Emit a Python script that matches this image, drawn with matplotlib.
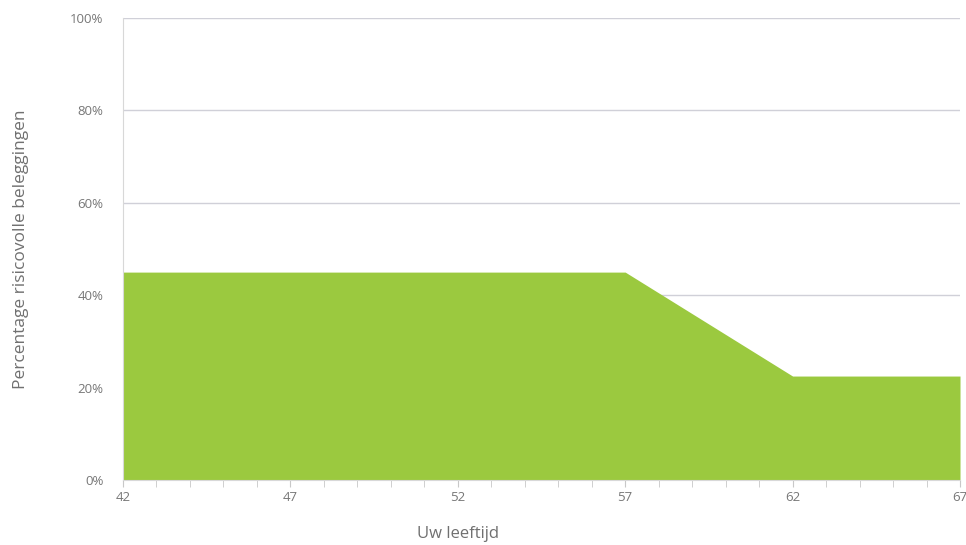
import matplotlib.pyplot as plt
from matplotlib.ticker import MultipleLocator, FuncFormatter

ages = [42, 47, 52, 57, 58, 59, 60, 61, 62, 67]
risk_pct = [45, 45, 45, 45, 40.5, 36, 31.5, 27, 22.5, 22.5]
x_ticks = [42, 47, 52, 57, 62, 67]
y_ticks = [0, 20, 40, 60, 80, 100]

plt.rcParams['font.family'] = ['Open Sans', 'DejaVu Sans']

fig = plt.figure(figsize=(9.66, 5.45), dpi=100)
ax = fig.add_axes([123 / 966, 65 / 545, 837 / 966, 462 / 545])

ax.fill_between(ages, risk_pct, 0, color='#9bc93f', lw=0, zorder=2)

ax.set_xlim(42, 67)
ax.set_ylim(0, 100)
ax.set_xticks(x_ticks)
ax.xaxis.set_minor_locator(MultipleLocator(1))
ax.set_yticks(y_ticks)
ax.yaxis.set_major_formatter(FuncFormatter(lambda v, p: f'{v:.0f}%'))

ax.grid(axis='y', color='#d0d0d8', lw=1, zorder=1)
for s in ('top', 'right'):
    ax.spines[s].set_visible(False)
ax.spines['left'].set_color('#d8d8d8')
ax.spines['bottom'].set_color('#d8d8d8')

ax.tick_params(axis='x', which='both', direction='out', length=5, color='#c8c8c8',
               labelsize=9.5, labelcolor='#777777', pad=3)
ax.tick_params(axis='y', length=0, labelsize=9.5, labelcolor='#777777', pad=14)

ax.set_xlabel('Uw leeftijd', fontsize=12, color='#707070')
ax.xaxis.set_label_coords(0.40, -0.10)
ax.set_ylabel('Percentage risicovolle beleggingen', fontsize=12.5, color='#707070')
ax.yaxis.set_label_coords(-0.112, 0.5)

fig.savefig('out.png', dpi=100)
